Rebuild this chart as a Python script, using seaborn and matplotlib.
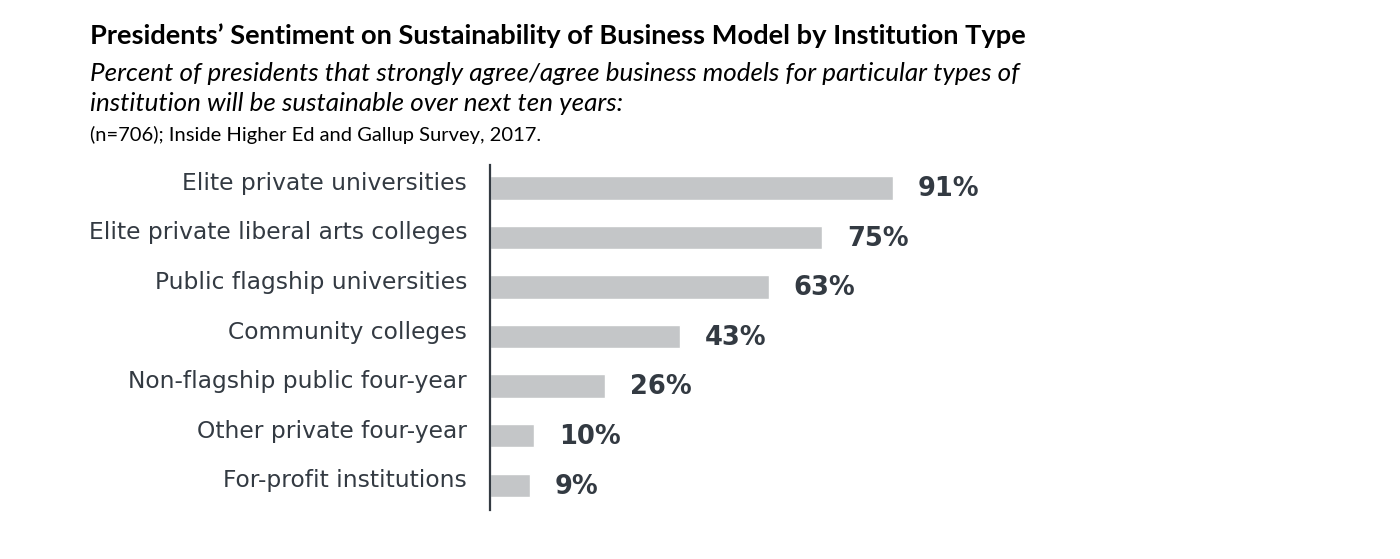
import matplotlib
matplotlib.use("Agg")
import matplotlib.pyplot as plt
import matplotlib.transforms as mtransforms
import seaborn as sns
import pandas as pd

# данные с картинки
categories = [
    "Elite private universities",
    "Elite private liberal arts colleges",
    "Public flagship universities",
    "Community colleges",
    "Non-flagship public four-year",
    "Other private four-year",
    "For-profit institutions",
]
values = [91, 75, 63, 43, 26, 10, 9]
value_labels = ["91%", "75%", "63%", "43%", "26%", "10%", "9%"]

title = "Presidents\u2019 Sentiment on Sustainability of Business Model by Institution Type"
subtitle = ("Percent of presidents that strongly agree/agree business models for particular types of\n"
            "institution will be sustainable over next ten years:")
source = "(n=706); Inside Higher Ed and Gallup Survey, 2017."

df = pd.DataFrame({"category": categories, "value": values})

sns.set_style("white")
plt.rcParams["font.family"] = ["DejaVu Sans"]

bar_color = "#c4c6c8"
text_color = "#333a42"

fig = plt.figure(figsize=(14, 5.59), dpi=100)
ax = fig.add_axes([0.35, 0.0877, 0.316, 0.617])

sns.barplot(data=df, x="value", y="category", color=bar_color, width=0.47,
            saturation=1, ax=ax)

ax.set_xlim(0, 100)
ax.set_ylim(6.5, -0.46)
ax.set_xlabel("")
ax.set_ylabel("")
ax.set_xticks([])
for s in ["top", "right", "bottom"]:
    ax.spines[s].set_visible(False)
ax.spines["left"].set_color("#333a42")
ax.spines["left"].set_linewidth(1.6)

ax.tick_params(axis="y", length=0, pad=16.5, labelsize=16.8, labelcolor=text_color)
shift = mtransforms.ScaledTranslation(0, 7 / 100, fig.dpi_scale_trans)
for lab in ax.get_yticklabels():
    lab.set_transform(lab.get_transform() + shift)

# подписи значений
for i, (v, t) in enumerate(zip(values, value_labels)):
    ax.annotate(t, xy=(v, i), xytext=(18, -1), textcoords="offset points",
                ha="left", va="center", fontsize=18.5, fontweight="bold",
                color=text_color)

fig.text(0.064, 0.937, title, fontsize=19.6, fontweight="bold", color="black",
         family=["Lato", "DejaVu Sans"], va="center")
fig.text(0.064, 0.842, subtitle, fontsize=18.7, style="italic", color="black",
         family=["Lato", "DejaVu Sans"], va="center", linespacing=1.4)
fig.text(0.064, 0.758, source, fontsize=14.5, color="black",
         family=["Lato", "DejaVu Sans"], va="center")

fig.savefig("out.png", dpi=100, facecolor="white")
